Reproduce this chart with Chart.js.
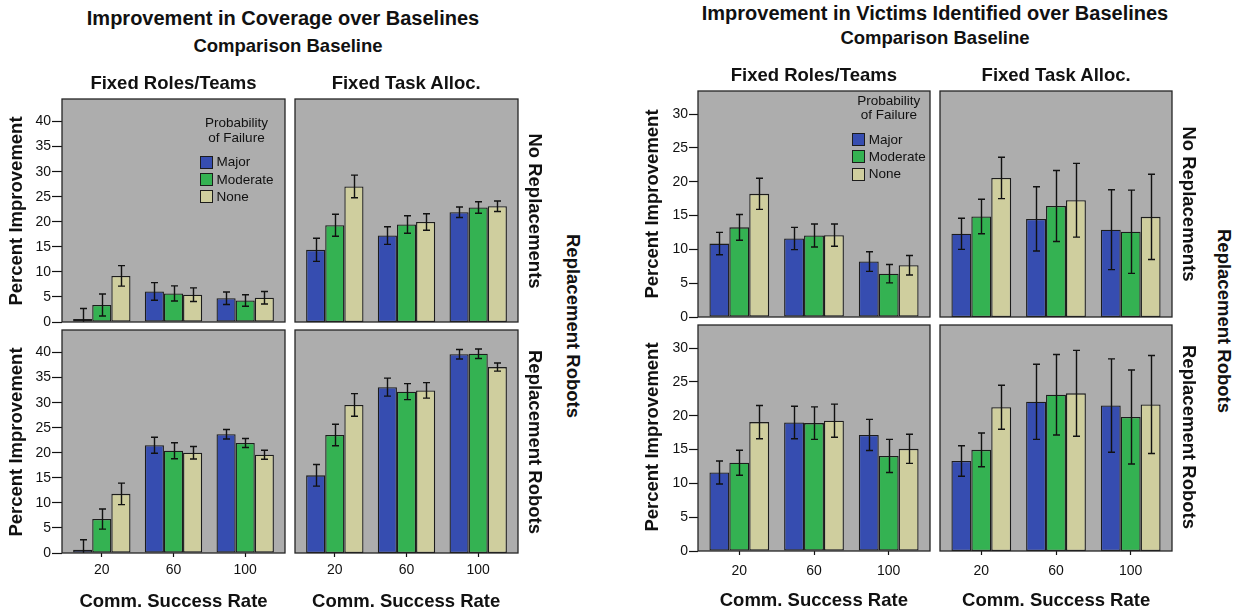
<!DOCTYPE html>
<html>
<head>
<meta charset="utf-8">
<script src="https://cdn.jsdelivr.net/npm/chart.js@4.4.1/dist/chart.umd.min.js"></script>
<style>
  html, body { margin: 0; padding: 0; background: #fff; }
  #stage { position: relative; width: 1247px; height: 615px; overflow: hidden;
           font-family: "Liberation Sans", Arial, sans-serif; color: #111; }
  #stage canvas { position: absolute; }
  .txt { position: absolute; white-space: nowrap; line-height: 1; font-weight: bold; }
  .leg { position: absolute; white-space: nowrap; line-height: 1; font-size: 13.5px; color: #111; }
  .sw { position: absolute; width: 13px; height: 13px; box-sizing: border-box; border: 1.3px solid #1c1c1c; }
</style>
</head>
<body>
<div id="stage"></div>
<script>
// Shared categories and series
const commRates = ['20', '60', '100'];
const failureLevels = ['Major', 'Moderate', 'None'];
const failureColors = ['#364DB0', '#34B252', '#CFCE9E'];

// Improvement in coverage (%): rows = Major, Moderate, None; columns = comm. success rate
const covRolesNoRep    = [[0.6, 6.1, 4.75], [3.4, 5.7, 4.3], [9.2, 5.45, 4.85]];
const covRolesNoRepErr = [[2.1, 1.75, 1.25], [2.2, 1.5, 1.15], [2.05, 1.35, 1.25]];
const covTaskNoRep     = [[14.4, 17.25, 21.9], [19.3, 19.45, 22.85], [27.05, 19.95, 23.1]];
const covTaskNoRepErr  = [[2.3, 1.75, 1.05], [2.2, 1.75, 1.15], [2.25, 1.65, 1.05]];
const covRolesRep      = [[0.65, 21.5, 23.7], [6.77, 20.4, 21.95], [11.8, 20.0, 19.6]];
const covRolesRepErr   = [[2.0, 1.6, 0.95], [2.0, 1.6, 0.9], [2.15, 1.25, 0.9]];
const covTaskRep       = [[15.5, 33.1, 39.65], [23.55, 32.2, 39.75], [29.55, 32.45, 37.1]];
const covTaskRepErr    = [[2.15, 1.8, 0.95], [2.15, 1.6, 0.95], [2.25, 1.55, 0.8]];

// Improvement in victims identified (%)
const vicRolesNoRep    = [[10.85, 11.6, 8.2], [13.25, 12.05, 6.4], [18.2, 12.1, 7.65]];
const vicRolesNoRepErr = [[1.65, 1.65, 1.45], [1.9, 1.7, 1.35], [2.3, 1.65, 1.45]];
const vicTaskNoRep     = [[12.3, 14.5, 12.9], [14.85, 16.4, 12.6], [20.55, 17.25, 14.8]];
const vicTaskNoRepErr  = [[2.3, 4.75, 5.9], [2.55, 5.25, 6.15], [3.05, 5.45, 6.3]];
const vicRolesRep      = [[11.6, 19.0, 17.15], [13.05, 18.9, 14.05], [19.05, 19.25, 15.1]];
const vicRolesRepErr   = [[1.7, 2.4, 2.3], [1.85, 2.4, 2.45], [2.45, 2.45, 2.15]];
const vicTaskRep       = [[13.3, 22.05, 21.5], [14.95, 23.1, 19.8], [21.25, 23.3, 21.65]];
const vicTaskRepErr    = [[2.25, 5.55, 6.9], [2.5, 5.95, 6.95], [3.25, 6.35, 7.25]];

const stage = document.getElementById('stage');
Chart.defaults.font.family = '"Liberation Sans", Arial, sans-serif';
Chart.defaults.color = '#111';

// Gray panel, error bars and frame
const panelPlugin = {
  id: 'panel',
  beforeDraw(chart) {
    const { ctx, chartArea: a } = chart;
    ctx.save();
    ctx.fillStyle = '#ADADAD';
    ctx.fillRect(a.left, a.top, a.right - a.left, a.bottom - a.top);
    ctx.restore();
  },
  afterDatasetsDraw(chart) {
    const { ctx, chartArea: a } = chart;
    const y = chart.scales.y;
    ctx.save();
    ctx.beginPath();
    ctx.rect(a.left, a.top, a.right - a.left, a.bottom - a.top);
    ctx.clip();
    ctx.strokeStyle = '#111';
    ctx.lineWidth = 1.4;
    chart.data.datasets.forEach((ds, i) => {
      chart.getDatasetMeta(i).data.forEach((bar, j) => {
        const v = ds.data[j].y, e = ds.errors[j];
        const yt = y.getPixelForValue(v + e);
        const yb = y.getPixelForValue(v - e);
        const cx = Math.round(bar.x) + 0.5, cap = 3.5;
        ctx.beginPath();
        ctx.moveTo(cx, yt); ctx.lineTo(cx, yb);
        ctx.moveTo(cx - cap, yt); ctx.lineTo(cx + cap, yt);
        ctx.moveTo(cx - cap, yb); ctx.lineTo(cx + cap, yb);
        ctx.stroke();
      });
    });
    ctx.restore();
  },
  afterDraw(chart) {
    const { ctx, chartArea: a } = chart;
    ctx.save();
    ctx.strokeStyle = '#262626';
    ctx.lineWidth = 1.3;
    ctx.strokeRect(a.left, a.top, a.right - a.left, a.bottom - a.top);
    ctx.restore();
  }
};

function makePanel(p) {
  const padL = 60, padT = 12, padR = 4;
  const axisH = p.showX ? 40 : 4;
  const cv = document.createElement('canvas');
  cv.width = Math.round(p.w + padL + padR);
  cv.height = Math.round(p.h + padT + axisH);
  cv.style.left = (p.x - padL) + 'px';
  cv.style.top = (p.y - padT) + 'px';
  stage.appendChild(cv);
  new Chart(cv, {
    type: 'bar',
    data: {
      datasets: failureLevels.map((name, s) => ({
        label: name,
        data: p.values[s].map((v, i) => ({ x: i, y: v })),
        errors: p.errors[s],
        backgroundColor: failureColors[s],
        borderColor: '#1c1c1c',
        borderWidth: 1.3,
        borderSkipped: false,
        categoryPercentage: 0.8,
        barPercentage: 1.0
      }))
    },
    options: {
      responsive: false,
      animation: false,
      devicePixelRatio: 1,
      layout: { padding: { left: 0, top: padT, right: padR, bottom: 0 } },
      plugins: { legend: { display: false }, tooltip: { enabled: false } },
      scales: {
        x: {
          type: 'linear',
          bounds: 'data',
          offset: false,
          min: -0.5 - p.xPad,
          max: commRates.length - 0.5 + p.xPad,
          afterBuildTicks: s => { s.ticks = commRates.map((_, i) => ({ value: i })); },
          afterFit: s => { s.height = axisH; s.paddingLeft = 0; s.paddingRight = 0; },
          grid: { display: p.showX, offset: false, drawOnChartArea: false, drawTicks: true, tickLength: 4,
                  tickColor: '#111', tickWidth: 1.2 },
          border: { display: false },
          ticks: { display: p.showX, autoSkip: false, maxRotation: 0, padding: p.xLabelPad,
                   font: { size: 14 }, color: '#111', callback: v => commRates[v] }
        },
        y: {
          bounds: 'data',
          min: 0,
          max: p.yMax,
          afterFit: s => { s.width = padL; s.paddingTop = 0; s.paddingBottom = 0; },
          grid: { display: p.showY, drawOnChartArea: false, drawTicks: true, tickLength: p.yTick,
                  tickColor: '#111', tickWidth: 1.2 },
          border: { display: false },
          ticks: { display: p.showY, stepSize: 5, includeBounds: false, padding: 1,
                   font: { size: 14 }, color: '#111' }
        }
      }
    },
    plugins: [panelPlugin]
  });
}

function addText(str, cx, cy, size, rot) {
  const d = document.createElement('div');
  d.className = 'txt';
  d.textContent = str;
  d.style.fontSize = size + 'px';
  d.style.left = cx + 'px';
  d.style.top = cy + 'px';
  d.style.transform = 'translate(-50%,-50%)' + (rot ? ' rotate(' + rot + 'deg)' : '');
  stage.appendChild(d);
}

function addLegend(sx, ty) {
  ['Probability', 'of Failure'].forEach((line, k) => {
    const d = document.createElement('div');
    d.className = 'leg';
    d.textContent = line;
    d.style.left = (sx + 36.5) + 'px';
    d.style.top = (ty + k * 14.4) + 'px';
    d.style.transform = 'translate(-50%,-50%)';
    stage.appendChild(d);
  });
  failureLevels.forEach((name, s) => {
    const cy = ty + 39 + s * 17.2;
    const sw = document.createElement('div');
    sw.className = 'sw';
    sw.style.left = sx + 'px';
    sw.style.top = (cy - 6.5) + 'px';
    sw.style.background = failureColors[s];
    stage.appendChild(sw);
    const t = document.createElement('div');
    t.className = 'leg';
    t.textContent = name;
    t.style.left = (sx + 16.5) + 'px';
    t.style.top = cy + 'px';
    t.style.transform = 'translateY(-50%)';
    stage.appendChild(t);
  });
}

// One 2x2 faceted figure: column lefts, row tops, panel size
function drawFigure(f) {
  const grid = [
    [f.panels[0], f.panels[1]],
    [f.panels[2], f.panels[3]]
  ];
  grid.forEach((row, r) => row.forEach((pd, c) => {
    makePanel({
      x: f.cols[c], y: f.rows[r], w: f.w, h: f.h,
      values: pd[0], errors: pd[1],
      yMax: f.yMax, xPad: f.xPad, yTick: f.yTick, xLabelPad: f.xLabelPad,
      showY: c === 0, showX: r === 1
    });
  }));
  const colC = f.cols.map(x => x + f.w / 2);
  const rowC = f.rows.map(y => y + f.h / 2);
  addText(f.title, f.titlePos[0], f.titlePos[1], 20);
  addText('Comparison Baseline', f.subPos[0], f.subPos[1], 18.5);
  addText('Fixed Roles/Teams', colC[0], f.facetY, 18.5);
  addText('Fixed Task Alloc.', colC[1], f.facetY, 18.5);
  rowC.forEach(cy => addText('Percent Improvement', f.yTitleX, cy, 18.5, -90));
  colC.forEach(cx => addText('Comm. Success Rate', cx, f.xTitleY, 18.5));
  addText('No Replacements', f.rowLabelX, rowC[0], 18.5, 90);
  addText('Replacement Robots', f.rowLabelX, rowC[1], 18.5, 90);
  addText('Replacement Robots', f.outerLabelX, (f.rows[0] + f.rows[1] + f.h) / 2, 18.5, 90);
  addLegend(f.legend[0], f.legend[1]);
}

drawFigure({
  title: 'Improvement in Coverage over Baselines',
  cols: [62, 294.7], rows: [99, 330.3], w: 223, h: 223,
  yMax: 44.5, xPad: 0.055, yTick: 10, xLabelPad: 5,
  panels: [
    [covRolesNoRep, covRolesNoRepErr], [covTaskNoRep, covTaskNoRepErr],
    [covRolesRep, covRolesRepErr], [covTaskRep, covTaskRepErr]
  ],
  titlePos: [283, 18], subPos: [288, 45.5], facetY: 83,
  yTitleX: 15.5, xTitleY: 601, rowLabelX: 535, outerLabelX: 573,
  legend: [200, 123.3]
});

drawFigure({
  title: 'Improvement in Victims Identified over Baselines',
  cols: [697.7, 940], rows: [91, 324.7], w: 232.3, h: 225.5,
  yMax: 33.4, xPad: 0.053, yTick: 9, xLabelPad: 7.5,
  panels: [
    [vicRolesNoRep, vicRolesNoRepErr], [vicTaskNoRep, vicTaskNoRepErr],
    [vicRolesRep, vicRolesRepErr], [vicTaskRep, vicTaskRepErr]
  ],
  titlePos: [935, 13], subPos: [935, 37.5], facetY: 75,
  yTitleX: 651.5, xTitleY: 600, rowLabelX: 1189, outerLabelX: 1223.5,
  legend: [852.3, 100.7]
});
</script>
</body>
</html>
